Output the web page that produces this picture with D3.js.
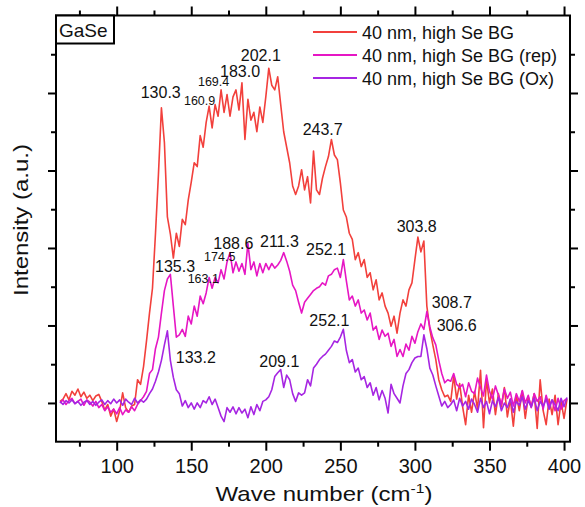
<!DOCTYPE html>
<html>
<head>
<meta charset="utf-8">
<script src="https://cdn.jsdelivr.net/npm/d3@7"></script>
<style>
  body { margin: 0; background: #fff; }
  svg text { font-family: "Liberation Sans", Arial, sans-serif; fill: #111; }
</style>
</head>
<body>
<svg class="raman" width="585" height="507"></svg>
<script>
// wave number grid of the three spectra (cm-1)
var wave = d3.range(62, 403, 2);

// 40 nm, high Se BG
var highSe = [
  0.02, 0.05, 0.12, 0.04, 0.15, 0.10, 0.18, 0.08, 0.14, 0.06,
  0.10, 0.03, 0.09, 0.11, 0.02, -0.09, -0.02, -0.17, -0.08, -0.24,
  -0.10, 0.13, -0.06, -0.12, -0.04, -0.02, 0.30, 0.24, 0.47, 0.80,
  1.16, 1.48, 2.18, 2.95, 3.81, 3.36, 2.40, 2.18, 1.87, 2.19,
  2.02, 2.37, 2.30, 2.62, 2.85, 3.10, 3.05, 3.45, 3.30, 3.62,
  3.83, 3.55, 3.85, 3.70, 4.04, 3.75, 3.98, 3.70, 3.95, 4.04,
  3.78, 4.13, 3.40, 3.92, 3.65, 3.75, 3.50, 3.82, 3.62, 3.95,
  4.32, 4.10, 4.04, 4.21, 3.85, 3.50, 3.30, 3.10, 2.80, 2.69,
  2.80, 3.01, 2.75, 2.92, 2.58, 3.25, 2.75, 2.69, 2.90, 3.05,
  3.18, 3.40, 3.20, 3.14, 2.84, 2.49, 2.40, 2.19, 2.11, 1.85,
  1.94, 1.76, 1.85, 1.62, 1.68, 1.46, 1.59, 1.33, 1.42, 1.25,
  1.16, 0.99, 1.12, 0.90, 1.16, 1.33, 1.25, 1.46, 1.55, 1.85,
  2.14, 1.95, 2.09, 1.25, 0.95, 0.75, 0.56, 0.30, 0.17, 0.08,
  0.10, 0.02, 0.35, 0.05, 0.25, -0.05, -0.28, 0.10, -0.12, 0.15,
  -0.08, 0.42, -0.32, 0.30, 0.00, 0.18, -0.15, 0.12, -0.05, 0.20,
  -0.18, 0.05, -0.30, 0.10, -0.10, 0.15, -0.20, 0.08, -0.05, 0.12,
  -0.33, 0.30, -0.10, -0.28, 0.05, -0.15, 0.10, -0.28, 0.02, -0.20,
  0.05
];

// 40 nm, high Se BG (rep)
var highSeRep = [
  0.00, 0.04, -0.02, 0.03, 0.06, -0.01, 0.02, 0.05, -0.03, 0.04,
  0.01, -0.04, 0.02, -0.06, -0.02, -0.10, -0.05, -0.12, -0.08, -0.14,
  -0.06, -0.15, -0.09, -0.12, -0.05, -0.10, -0.02, 0.03, 0.08, 0.15,
  0.38, 0.43, 0.70, 0.85, 1.16, 1.45, 1.60, 1.66, 1.25, 0.85,
  0.88, 0.95, 0.86, 1.12, 1.02, 1.25, 1.12, 1.38, 1.28, 1.42,
  1.62, 1.48, 1.62, 1.55, 1.72, 1.60, 1.82, 1.94, 1.68, 1.82,
  1.70, 1.80, 1.66, 2.06, 1.72, 1.82, 1.64, 1.80, 1.68, 1.80,
  1.72, 1.80, 1.74, 1.78, 1.84, 1.94, 1.83, 1.70, 1.52, 1.45,
  1.30, 1.16, 1.30, 1.35, 1.40, 1.45, 1.48, 1.50, 1.55, 1.52,
  1.64, 1.66, 1.72, 1.74, 1.62, 1.85, 1.58, 1.33, 1.38, 1.25,
  1.33, 1.16, 1.20, 1.07, 1.16, 0.94, 0.99, 0.82, 0.94, 0.86,
  0.90, 0.73, 0.82, 0.60, 0.69, 0.60, 0.76, 0.68, 0.86, 0.77,
  0.92, 1.02, 0.95, 1.18, 0.98, 0.84, 0.75, 0.55, 0.38, 0.26,
  0.30, 0.28, 0.38, 0.24, 0.20, 0.24, 0.08, 0.26, 0.15, 0.12,
  0.32, 0.20, 0.09, 0.36, 0.15, 0.05, 0.22, 0.10, -0.02, 0.18,
  0.06, 0.14, -0.04, 0.12, 0.02, 0.16, 0.00, 0.10, -0.06, 0.12,
  0.02, 0.08, -0.08, 0.10, -0.04, 0.04, -0.10, 0.06, -0.08, 0.03,
  0.06
];

// 40 nm, high Se BG (Ox)
var highSeOx = [
  0.02, -0.02, 0.03, 0.00, 0.04, -0.01, 0.02, -0.03, 0.01, 0.03,
  -0.02, 0.02, -0.03, 0.01, 0.04, -0.02, 0.03, -0.01, 0.05, 0.00,
  0.04, -0.03, 0.05, 0.01, -0.02, 0.06, 0.00, 0.04, 0.01, 0.05,
  0.12, 0.18, 0.28, 0.40, 0.55, 0.75, 0.93, 0.55, 0.33, 0.17,
  0.12, -0.04, 0.03, -0.06, 0.00, -0.08, 0.00, -0.06, 0.03, 0.00,
  0.08, -0.02, 0.05, -0.06, -0.17, -0.24, -0.06, -0.12, -0.05, -0.14,
  -0.06, -0.13, -0.08, -0.19, -0.05, -0.15, -0.02, -0.10, 0.02, 0.04,
  0.08, 0.17, 0.34, 0.39, 0.43, 0.20, 0.36, 0.30, 0.12, 0.02,
  0.13, 0.10, 0.13, 0.30, 0.22, 0.45, 0.50, 0.56, 0.60, 0.63,
  0.68, 0.73, 0.80, 0.78, 0.85, 0.95, 0.68, 0.52, 0.56, 0.40,
  0.45, 0.30, 0.34, 0.20, 0.26, 0.10, 0.20, 0.04, 0.16, 0.06,
  -0.13, 0.24, 0.12, 0.06, 0.00, 0.22, 0.38, 0.43, 0.52, 0.58,
  0.60, 0.60, 0.88, 0.70, 0.45, 0.36, 0.22, 0.09, -0.04, 0.02,
  -0.06, -0.02, 0.04, -0.10, 0.06, -0.04, 0.02, -0.08, 0.05, -0.02,
  -0.12, 0.06, -0.06, 0.02, -0.14, 0.03, -0.05, 0.07, -0.10, 0.00,
  -0.06, 0.05, -0.12, 0.02, -0.03, 0.08, -0.08, 0.03, -0.05, 0.06,
  -0.10, 0.02, -0.04, 0.05, -0.08, 0.04, -0.02, -0.10, 0.06, -0.05,
  0.07
];

var seriesNames = ["40 nm, high Se BG", "40 nm, high Se BG (rep)", "40 nm, high Se BG (Ox)"];
var seriesColors = ["#f2403c", "#e616c4", "#a625e2"];

var xTicks = [100, 150, 200, 250, 300, 350, 400];
var xMinorTicks = [75, 125, 175, 225, 275, 325, 375];
var yTicks = [0, 1, 2, 3, 4];
var yMinorTicks = [0.5, 1.5, 2.5, 3.5, 4.5];

// peak labels: text, wave number, intensity, small font
var peakLabels = [
  ["130.3", 116.1, 3.93, false],
  ["160.9", 145.1, 3.85, true],
  ["169.4", 154.5, 4.09, true],
  ["183.0", 169.3, 4.21, false],
  ["202.1", 183.2, 4.41, false],
  ["243.7", 224.7, 3.46, false],
  ["303.8", 287.8, 2.21, false],
  ["188.6", 164.8, 1.99, false],
  ["211.3", 196.1, 2.01, false],
  ["252.1", 227.0, 1.91, false],
  ["174.5", 158.6, 1.83, true],
  ["135.3", 125.7, 1.69, false],
  ["163.1", 147.6, 1.55, true],
  ["308.7", 311.3, 1.22, false],
  ["252.1", 229.2, 0.99, false],
  ["306.6", 314.6, 0.93, false],
  ["133.2", 139.6, 0.52, false],
  ["209.1", 195.6, 0.47, false]
];

var margin = {top: 15.5, right: 15, bottom: 65.3, left: 56},
    width = 585 - margin.left - margin.right,
    height = 507 - margin.top - margin.bottom;

var svg = d3.select(".raman");

var x = d3.scaleLinear().domain([59.3, 404]).range([margin.left, margin.left + width]);
var y = d3.scaleLinear().domain([-0.5, 5]).range([margin.top + height, margin.top]);

function cleanAxis(g){
  g.select(".domain").remove();
  g.selectAll(".tick line").attr("stroke", "#000").attr("stroke-width", 2);
}

// bottom + top axes
svg.append("g")
    .attr("transform", "translate(0," + (margin.top + height) + ")")
    .call(d3.axisBottom(x).tickValues(xMinorTicks).tickSize(5).tickFormat(""))
    .call(cleanAxis);

var xb = svg.append("g")
    .attr("transform", "translate(0," + (margin.top + height) + ")")
    .call(d3.axisBottom(x).tickValues(xTicks).tickSize(9).tickPadding(8))
    .call(cleanAxis);
xb.selectAll("text")
    .attr("font-size", "20px")
    .attr("fill", "#111");

svg.append("g")
    .attr("transform", "translate(0," + margin.top + ")")
    .call(d3.axisTop(x).tickValues(xMinorTicks).tickSize(5).tickFormat(""))
    .call(cleanAxis);

svg.append("g")
    .attr("transform", "translate(0," + margin.top + ")")
    .call(d3.axisTop(x).tickValues(xTicks).tickSize(9).tickFormat(""))
    .call(cleanAxis);

// left + right axes, no labels
svg.append("g")
    .attr("transform", "translate(" + margin.left + ",0)")
    .call(d3.axisLeft(y).tickValues(yTicks).tickSize(8).tickFormat(""))
    .call(cleanAxis);

svg.append("g")
    .attr("transform", "translate(" + margin.left + ",0)")
    .call(d3.axisLeft(y).tickValues(yMinorTicks).tickSize(5).tickFormat(""))
    .call(cleanAxis);

svg.append("g")
    .attr("transform", "translate(" + (margin.left + width) + ",0)")
    .call(d3.axisRight(y).tickValues(yTicks).tickSize(8).tickFormat(""))
    .call(cleanAxis);

svg.append("g")
    .attr("transform", "translate(" + (margin.left + width) + ",0)")
    .call(d3.axisRight(y).tickValues(yMinorTicks).tickSize(5).tickFormat(""))
    .call(cleanAxis);

// spectra
var line = d3.line()
    .x(function(d, i){ return x(wave[i]); })
    .y(function(d){ return y(d); });

[highSe, highSeRep, highSeOx].forEach(function(s, k){
  svg.append("path")
      .datum(s)
      .attr("fill", "none")
      .attr("stroke", seriesColors[k])
      .attr("stroke-width", 1.6)
      .attr("stroke-linejoin", "round")
      .attr("d", line);
});

// frame
svg.append("rect")
    .attr("x", margin.left)
    .attr("y", margin.top)
    .attr("width", width)
    .attr("height", height)
    .attr("fill", "none")
    .attr("stroke", "#000")
    .attr("stroke-width", 2);

// peak labels
peakLabels.forEach(function(p){
  svg.append("text")
      .attr("x", x(p[1]))
      .attr("y", y(p[2]))
      .attr("font-size", p[3] ? "12.5px" : "16px")
      .text(p[0]);
});

// sample tag
svg.append("rect")
    .attr("x", margin.left)
    .attr("y", margin.top)
    .attr("width", 58)
    .attr("height", 28)
    .attr("fill", "#fff")
    .attr("stroke", "#000")
    .attr("stroke-width", 2);

svg.append("text")
    .attr("x", margin.left + 3)
    .attr("y", margin.top + 21)
    .attr("font-size", "19px")
    .text("GaSe");

// legend
seriesNames.forEach(function(name, k){
  var ly = 32 + k * 23;
  svg.append("line")
      .attr("x1", 313)
      .attr("x2", 357)
      .attr("y1", ly)
      .attr("y2", ly)
      .attr("stroke", seriesColors[k])
      .attr("stroke-width", 2);
  svg.append("text")
      .attr("x", 362)
      .attr("y", ly + 6.5)
      .attr("font-size", "18px")
      .text(name);
});

// axis titles
var xt = svg.append("text")
    .attr("text-anchor", "middle")
    .attr("font-size", "20px")
    .attr("transform", "translate(324,501) scale(1.2,1)");
xt.append("tspan").text("Wave number (cm");
xt.append("tspan").attr("font-size", "13px").attr("dy", "-8").text("-1");
xt.append("tspan").attr("dy", "8").text(")");

svg.append("text")
    .attr("text-anchor", "middle")
    .attr("font-size", "20px")
    .attr("transform", "translate(27.5,220) rotate(-90) scale(1.2,1)")
    .text("Intensity (a.u.)");
</script>
</body>
</html>
